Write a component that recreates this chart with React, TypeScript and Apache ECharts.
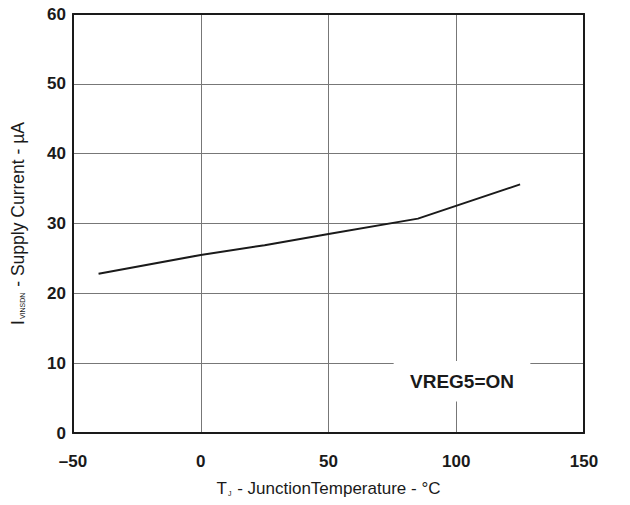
import React, { useEffect, useRef } from "react";
import * as echarts from "echarts";

// Junction temperature (°C) and supply current (µA)
const temperature = [-40, 0, 25, 50, 85, 125];
const supplyCurrent = [22.8, 25.5, 26.9, 28.5, 30.7, 35.6];

const xTicks = { min: -50, max: 150, interval: 50 };
const yTicks = { min: 0, max: 60, interval: 10 };

const noteText = "VREG5=ON";
const noteBox = { x0: 75.5, x1: 129, y0: 4.5, y1: 10.3 };

const FONT = "'Liberation Sans', Arial, Helvetica, sans-serif";

export default function App() {
  const ref = useRef<HTMLDivElement>(null);

  useEffect(() => {
    if (!ref.current) return;
    const chart = echarts.init(ref.current, undefined, { renderer: "svg" });

    const tickLabel = {
      fontFamily: FONT,
      fontWeight: "bold" as const,
      fontSize: 17,
      color: "#1a1a1a",
    };

    chart.setOption({
      animation: false,
      backgroundColor: "#ffffff",
      grid: { left: 73, right: 46, top: 14, bottom: 72, containLabel: false },
      xAxis: [
        {
          type: "value",
          min: xTicks.min,
          max: xTicks.max,
          interval: xTicks.interval,
          position: "bottom",
          axisLine: { show: true, lineStyle: { color: "#1a1a1a", width: 2 } },
          axisTick: { show: false },
          splitLine: { show: true, lineStyle: { color: "#777777", width: 1 } },
          axisLabel: {
            ...tickLabel,
            margin: 20,
            formatter: (v: number) => (v < 0 ? "\u2013" + Math.abs(v) : String(v)),
          },
          name: "{m|T}{s|J}{m| - JunctionTemperature - °C}",
          nameLocation: "middle",
          nameGap: 47,
          nameTextStyle: {
            rich: {
              m: { fontFamily: FONT, fontSize: 17, color: "#1a1a1a" },
              s: { fontFamily: FONT, fontSize: 7, color: "#1a1a1a", padding: [9, 1, 0, 1] },
            },
          },
        },
        {
          type: "value",
          min: xTicks.min,
          max: xTicks.max,
          interval: xTicks.interval,
          position: "top",
          axisLine: { show: true, onZero: false, lineStyle: { color: "#1a1a1a", width: 2 } },
          axisTick: { show: false },
          axisLabel: { show: false },
          splitLine: { show: false },
        },
      ],
      yAxis: [
        {
          type: "value",
          min: yTicks.min,
          max: yTicks.max,
          interval: yTicks.interval,
          position: "left",
          axisLine: { show: true, onZero: false, lineStyle: { color: "#1a1a1a", width: 2 } },
          axisTick: { show: false },
          splitLine: { show: true, lineStyle: { color: "#777777", width: 1 } },
          axisLabel: { ...tickLabel, margin: 7 },
          name: "{m|I}{s|VINSDN}{m| - Supply Current - µA}",
          nameLocation: "middle",
          nameGap: 46,
          nameTextStyle: {
            rich: {
              m: { fontFamily: FONT, fontSize: 17.5, color: "#1a1a1a" },
              s: { fontFamily: FONT, fontSize: 7, color: "#1a1a1a", padding: [9, 1, 0, 1] },
            },
          },
        },
        {
          type: "value",
          min: yTicks.min,
          max: yTicks.max,
          interval: yTicks.interval,
          position: "right",
          axisLine: { show: true, onZero: false, lineStyle: { color: "#1a1a1a", width: 2 } },
          axisTick: { show: false },
          axisLabel: { show: false },
          splitLine: { show: false },
        },
      ],
      series: [
        {
          type: "line",
          xAxisIndex: 0,
          yAxisIndex: 0,
          data: temperature.map((t, i) => [t, supplyCurrent[i]]),
          showSymbol: false,
          lineStyle: { color: "#1a1a1a", width: 2 },
          markArea: {
            silent: true,
            itemStyle: { color: "#ffffff", borderWidth: 0 },
            label: {
              show: true,
              position: "inside",
              formatter: noteText,
              fontFamily: FONT,
              fontWeight: "bold",
              fontSize: 19,
              color: "#1a1a1a",
            },
            data: [[{ coord: [noteBox.x0, noteBox.y1] }, { coord: [noteBox.x1, noteBox.y0] }]],
          },
        },
      ],
    });

    return () => chart.dispose();
  }, []);

  return (
    <div
      ref={ref}
      style={{ position: "fixed", left: 0, top: 0, width: 630, height: 505 }}
    />
  );
}
